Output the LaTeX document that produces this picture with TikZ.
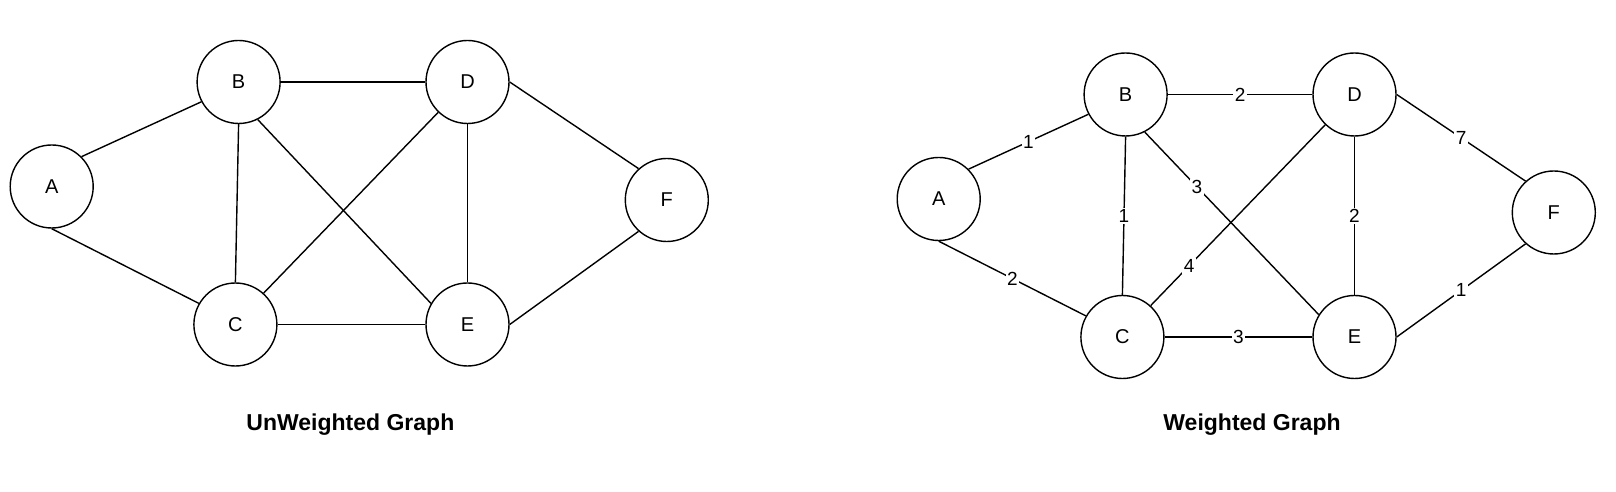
\documentclass[tikz,border=0pt]{standalone}
\usepackage{fontspec}
\setmainfont{Liberation Sans}
\usetikzlibrary{calc}

\tikzset{
  vertex/.style={draw, circle, line width=1.4pt, minimum size=83pt, inner sep=0pt,
    font=\fontsize{20}{24}\selectfont},
  edge/.style={line width=1.4pt},
  weight/.style={fill=white, inner sep=1.5pt, font=\fontsize{19}{22}\selectfont},
  caption/.style={font=\bfseries\fontsize{23}{27}\selectfont}
}

\begin{document}
\begin{tikzpicture}[x=1pt, y=1pt]
  \useasboundingbox (0,0) rectangle (1616,492);
  \pgfmathsetmacro{\dx}{887}
  \pgfmathsetmacro{\dy}{-12.5}

  % unweighted graph
  \foreach \n/\x/\y in {A/51.7/305.5, B/238.6/410, D/467.5/410,
                        C/235.4/167.5, E/467.5/167.5, F/666.8/292}
    \node[vertex] (\n) at (\x,\y) {\n};
  \foreach \a/\b in {A.45/B.208, A.south/C.150, B.east/D.west, B.south/C.north,
                     B.297/E.150, C.48/D.226, C.east/E.west, D.south/E.north,
                     D.east/F.132, E.east/F.228}
    \draw[edge] (\a) -- (\b);
  \node[caption] (unwcap) at (350.4,67.4) {UnWeighted Graph};

  % weighted graph, same layout shifted right
  \foreach \n/\x/\y in {A/51.7/305.5, B/238.6/410, D/467.5/410,
                        C/235.4/167.5, E/467.5/167.5, F/666.8/292}
    \node[vertex] (w\n) at ({\x+\dx},{\y+\dy}) {\n};
  \foreach \a/\b/\w/\p in {A.45/B.208/1/0.5, A.south/C.150/2/0.5,
                           B.east/D.west/2/0.5, B.south/C.north/1/0.5,
                           B.297/E.148/3/0.3, C.48/D.226/4/0.22,
                           C.east/E.west/3/0.5, D.south/E.north/2/0.5,
                           D.east/F.132/7/0.5, E.east/F.228/1/0.5}
    \draw[edge] (w\a) -- node[weight, pos=\p] {\w} (w\b);
  \node[caption] (wcap) at (1252,67.4) {Weighted Graph};
\end{tikzpicture}
\end{document}
